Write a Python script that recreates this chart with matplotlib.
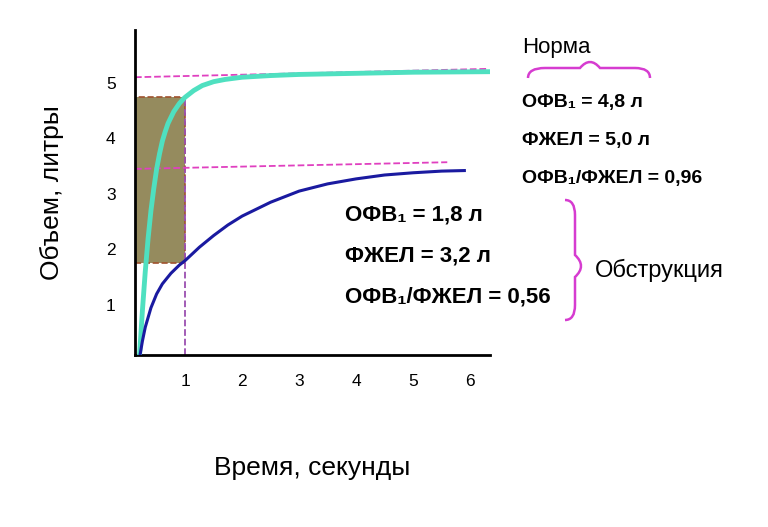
import matplotlib
matplotlib.use("Agg")
import matplotlib.pyplot as plt
from matplotlib.path import Path
from matplotlib.patches import PathPatch, Rectangle

norm_t = [0.2, 0.25, 0.3, 0.35, 0.4, 0.45, 0.5, 0.55, 0.6, 0.65, 0.7, 0.8, 0.9, 1.0, 1.15, 1.3, 1.5, 1.7, 2.0, 2.5, 3.0, 4.0, 5.0, 6.4]
norm_v = [0.1, 0.9, 1.6, 2.2, 2.7, 3.1, 3.45, 3.72, 3.95, 4.12, 4.27, 4.48, 4.63, 4.74, 4.86, 4.95, 5.02, 5.06, 5.1, 5.13, 5.15, 5.17, 5.19, 5.2]
obs_t = [0.2, 0.25, 0.3, 0.4, 0.5, 0.6, 0.75, 0.9, 1.0, 1.25, 1.5, 1.75, 2.0, 2.5, 3.0, 3.5, 4.0, 4.5, 5.0, 5.5, 5.9]
obs_v = [0.05, 0.35, 0.6, 0.95, 1.2, 1.38, 1.57, 1.72, 1.8, 2.04, 2.25, 2.44, 2.6, 2.85, 3.05, 3.18, 3.27, 3.34, 3.38, 3.41, 3.42]
xticks = [1, 2, 3, 4, 5, 6]
yticks = [1, 2, 3, 4, 5]
norm_fev1, obs_fev1 = 4.75, 1.75

W, H = 768, 527
fig = plt.figure(figsize=(W/100, H/100), dpi=100)
plt.rcParams['font.family'] = ['Liberation Sans', 'DejaVu Sans']
ax = fig.add_axes([135/W, 1-355/H, 355/W, 325/H])
ax.set_xlim(0.12, 6.35)
ax.set_ylim(0.1, 5.95)
for s in ['top', 'right']:
    ax.spines[s].set_visible(False)
for s in ['left', 'bottom']:
    ax.spines[s].set_linewidth(2)
ax.set_xticks(xticks)
ax.set_yticks(yticks)
ax.tick_params(length=0, labelsize=12.5, pad=14)

ax.add_patch(Rectangle((0.12, obs_fev1), 1-0.12, norm_fev1-obs_fev1,
                       facecolor='#958b5e', edgecolor='#a0522d', ls='--', lw=1.2, zorder=1))
ax.plot([1, 1], [0.1, norm_fev1], ls='--', color='#9b4fb0', lw=1.3, zorder=2)
ax.plot([0.12, 6.3], [5.1, 5.25], ls='--', color='#e040c0', lw=1.3)
ax.plot([0.12, 5.6], [3.45, 3.57], ls='--', color='#e040c0', lw=1.3)
ax.plot(norm_t, norm_v, color='#4fe0c0', lw=3.5, zorder=3)
ax.plot(obs_t, obs_v, color='#1a1aa0', lw=2.2, zorder=3)

ax.set_xlabel('Время, секунды', fontsize=19, labelpad=48)
ax.set_ylabel('Объем, литры', fontsize=19, labelpad=30)

def ft(x, y, s, **k):
    fig.text(x/W, 1-y/H, s, **k)

ft(522, 48, 'Норма', fontsize=16, va='center')
bold = dict(fontsize=14, fontweight='bold', va='center')
ft(522, 102, 'ОФВ₁ = 4,8 л', **bold)
ft(522, 140, 'ФЖЕЛ = 5,0 л', **bold)
ft(522, 178, 'ОФВ₁/ФЖЕЛ = 0,96', **bold)
big = dict(fontsize=16, fontweight='bold', va='center')
ft(345, 215, 'ОФВ₁ = 1,8 л', **big)
ft(345, 256, 'ФЖЕЛ = 3,2 л', **big)
ft(345, 297, 'ОФВ₁/ФЖЕЛ = 0,56', **big)
ft(595, 270, 'Обструкция', fontsize=17, va='center')

def P(x, y):
    return (x/W, 1-y/H)
C = Path.CURVE3
v = [P(528, 78), P(528, 68), P(545, 68), P(580, 68), P(590, 56),
     P(600, 68), P(635, 68), P(650, 68), P(650, 78)]
codes = [Path.MOVETO, C, C, Path.LINETO, C, C, Path.LINETO, C, C]
fig.patches.append(PathPatch(Path(v, codes), transform=fig.transFigure,
                             fill=False, ec='#d63cd0', lw=1.8))
v2 = [P(565, 200), P(575, 200), P(575, 215), P(575, 255), P(587, 266),
      P(575, 277), P(575, 305), P(575, 320), P(565, 320)]
fig.patches.append(PathPatch(Path(v2, codes), transform=fig.transFigure,
                             fill=False, ec='#d63cd0', lw=1.8))
fig.savefig('out.png', dpi=100)
